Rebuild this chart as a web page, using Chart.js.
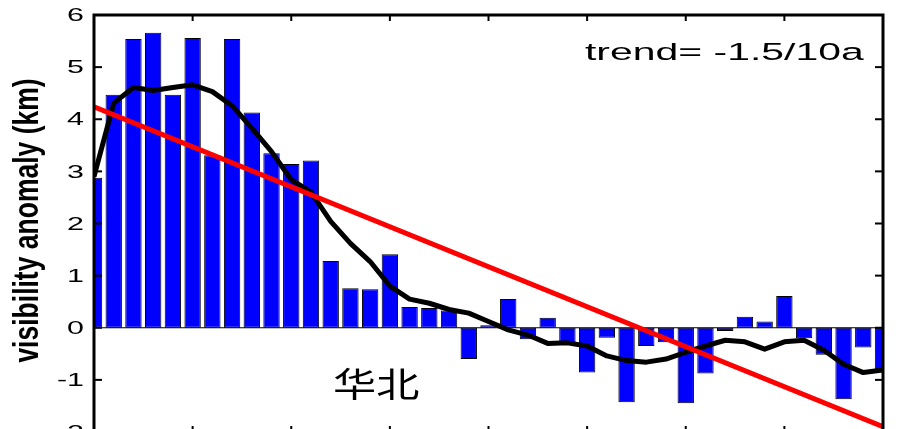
<!DOCTYPE html>
<html><head><meta charset="utf-8">
<script src="https://cdn.jsdelivr.net/npm/chart.js@4.4.1/dist/chart.umd.min.js"></script>
<style>html,body{margin:0;padding:0;background:#fff;overflow:hidden;width:922px;height:429px}canvas{display:block}</style>
</head><body><canvas id="c" width="922" height="440"></canvas>
<script>
const years = [1970,1971,1972,1973,1974,1975,1976,1977,1978,1979,1980,1981,1982,1983,1984,1985,1986,1987,1988,1989,1990,1991,1992,1993,1994,1995,1996,1997,1998,1999,2000,2001,2002,2003,2004,2005,2006,2007,2008,2009,2010];
const anomaly = [2.88,4.47,5.54,5.66,4.47,5.56,3.31,5.54,4.13,3.35,3.14,3.21,1.28,0.76,0.74,1.41,0.40,0.38,0.33,-0.60,0.05,0.55,-0.22,0.19,-0.28,-0.86,-0.19,-1.43,-0.35,-0.28,-1.45,-0.88,-0.06,0.21,0.12,0.61,-0.20,-0.52,-1.37,-0.38,-0.79];
const smooth = [2.90,4.31,4.61,4.55,4.61,4.66,4.53,4.26,3.83,3.38,2.84,2.60,2.04,1.62,1.27,0.80,0.55,0.47,0.35,0.28,0.12,-0.04,-0.14,-0.30,-0.29,-0.35,-0.54,-0.63,-0.66,-0.60,-0.47,-0.35,-0.24,-0.27,-0.41,-0.27,-0.24,-0.43,-0.70,-0.86,-0.81];
const trendYears = [1970, 2010];
const trendValues = [4.24, -1.90];
const yTicks = [-2,-1,0,1,2,3,4,5,6];
const yTickLabels = ['-2','-1','0','1','2','3','4','5','6'];
const xTicks = [1975,1980,1985,1990,1995,2000,2005];
const trendLabel = 'trend= -1.5/10a';
const regionLabel = '华北';
const yTitle = 'visibility anomaly (km)';

function stretchText(ctx, txt, x, y, sx, font, align, baseline){
  ctx.save(); ctx.translate(x,y); ctx.scale(sx,1);
  ctx.font = font; ctx.textAlign = align; ctx.textBaseline = baseline;
  ctx.fillStyle = '#000'; ctx.fillText(txt,0,0); ctx.restore();
}

const framePlugin = {
  id:'frame',
  beforeDatasetsDraw(chart){
    const {ctx, chartArea:a, scales:{y}} = chart;
    const p = y.getPixelForValue(0);
    ctx.save(); ctx.strokeStyle='#000'; ctx.lineWidth=1;
    ctx.beginPath(); ctx.moveTo(a.left,p); ctx.lineTo(a.right,p); ctx.stroke(); ctx.restore();
  },
  afterDraw(chart){
    const {ctx, chartArea:a, scales:{x,y}} = chart;
    ctx.save();
    ctx.strokeStyle='#000';
    ctx.lineWidth=2;
    const seg=(x1,y1,x2,y2)=>{ctx.beginPath();ctx.moveTo(x1,y1);ctx.lineTo(x2,y2);ctx.stroke();};
    yTicks.forEach(v=>{const py=y.getPixelForValue(v); seg(a.left,py,a.left+8,py); seg(a.right,py,a.right-8,py);});
    xTicks.forEach(v=>{const px=x.getPixelForValue(v); seg(px,a.top,px,a.top+6); seg(px,a.bottom,px,a.bottom-6);});
    ctx.lineWidth=3;
    ctx.strokeRect(a.left,a.top,a.right-a.left,a.bottom-a.top);
    yTicks.forEach((v,i)=>{
      stretchText(ctx, yTickLabels[i], a.left-10, y.getPixelForValue(v)+1, 1.6, '19px "Liberation Sans", Arial, sans-serif', 'right', 'middle');
    });
    stretchText(ctx, trendLabel, 585, 60, 1.67, '24.5px "Liberation Sans", Arial, sans-serif', 'left', 'alphabetic');
    stretchText(ctx, regionLabel, 333, 384, 1.27, '34px "Noto Sans CJK SC", sans-serif', 'left', 'middle');
    ctx.save();
    ctx.translate(38, 220.5); ctx.rotate(-Math.PI/2); ctx.scale(1,1.35);
    ctx.font='bold 26.5px "Liberation Sans", Arial, sans-serif';
    ctx.textAlign='center'; ctx.textBaseline='alphabetic'; ctx.fillStyle='#000';
    ctx.fillText(yTitle,0,0);
    ctx.restore();
    ctx.restore();
  }
};

new Chart(document.getElementById('c').getContext('2d'), {
  type:'bar',
  data:{ datasets:[
    {type:'line', label:'trend', data: trendYears.map((v,i)=>({x:v,y:trendValues[i]})), borderColor:'#ff0000', borderWidth:5, pointRadius:0, order:0},
    {type:'line', label:'smooth', data: years.map((v,i)=>({x:v,y:smooth[i]})), borderColor:'#000000', borderWidth:5, pointRadius:0, tension:0, borderJoinStyle:'round', order:1},
    {type:'bar', label:'anomaly', data: years.map((v,i)=>({x:v,y:anomaly[i]})), backgroundColor:'#0000ff', borderColor:'#000000', borderWidth:1, borderSkipped:false, barPercentage:0.83, categoryPercentage:1, clip:0, order:2}
  ]},
  options:{
    responsive:false, animation:false, events:[],
    layout:{padding:{left:94,top:15,right:39,bottom:8}},
    plugins:{legend:{display:false}, tooltip:{enabled:false}},
    scales:{
      x:{type:'linear', min:1970, max:2010, offset:false, grid:{offset:false}, display:false},
      y:{type:'linear', min:-2, max:6, display:false}
    }
  },
  plugins:[framePlugin]
});
</script></body></html>
